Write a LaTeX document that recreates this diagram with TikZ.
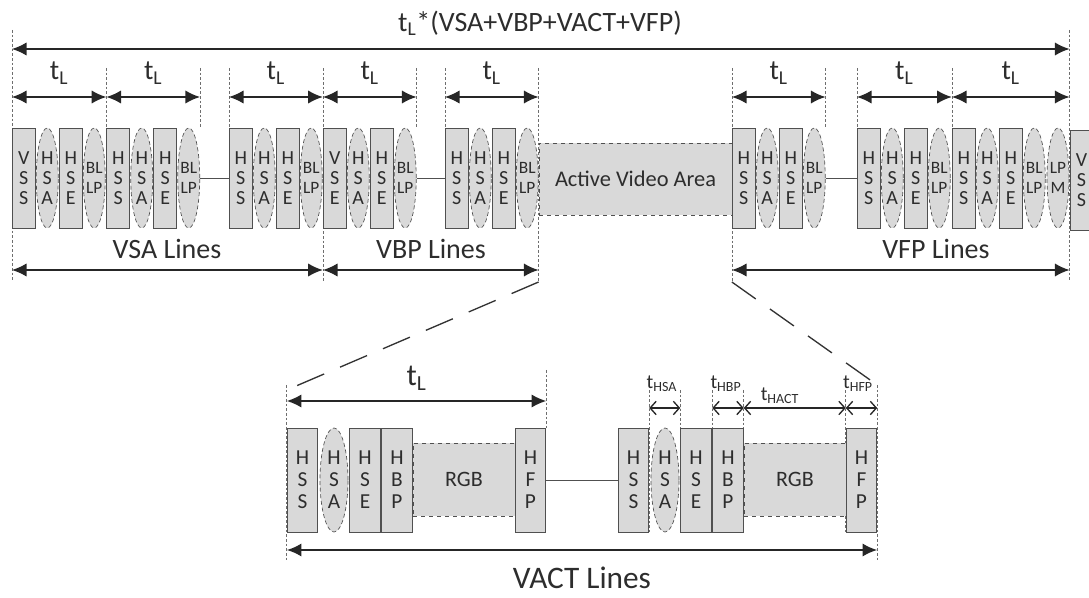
\documentclass[tikz,border=0pt]{standalone}
\usepackage{fontspec}
\setmainfont{Carlito}
\usetikzlibrary{arrows.meta, positioning, calc, shapes.geometric, backgrounds}
\definecolor{boxfill}{RGB}{217,217,217}
\definecolor{boxline}{RGB}{80,80,80}
\definecolor{txtgray}{RGB}{45,45,45}
\definecolor{guide}{RGB}{110,110,110}

\begin{document}
\begin{tikzpicture}[x=0.75pt, y=-0.75pt,
  every node/.style={text=txtgray, inner sep=0pt},
  lbox/.style={draw=boxline, fill=boxfill, line width=0.6pt, minimum width=17.25pt, minimum height=75pt, align=center, font=\fontsize{15}{15}\selectfont},
  lell/.style={ellipse, draw=boxline, fill=boxfill, densely dashed, line width=0.5pt, minimum width=16.5pt, minimum height=75pt, inner xsep=-1.5pt, align=center, font=\fontsize{15}{15}\selectfont},
  lellsm/.style={lell, inner xsep=-2.5pt, font=\fontsize{13}{15}\selectfont},
  hbox/.style={lbox, minimum width=23pt, minimum height=78pt, font=\fontsize{16}{16.5}\selectfont},
  hell/.style={lell, minimum width=21pt, minimum height=78pt, font=\fontsize{16}{16.5}\selectfont},
  dashfill/.style={draw=boxline, fill=boxfill, dashed, line width=0.6pt},
  guide/.style={draw=guide, line width=0.5pt, dash pattern=on 2pt off 1.5pt},
  link/.style={draw=boxline, line width=0.5pt},
  zoomline/.style={draw=black!80, line width=1pt, dash pattern=on 22pt off 13pt},
  dim/.style={{Latex[length=11pt,width=10pt]}-{Latex[length=11pt,width=10pt]}, line width=1.3pt, draw=black!85},
  sdim/.style={{Straight Barb[length=4.5pt,width=10pt]}-{Straight Barb[length=4.5pt,width=10pt]}, line width=1pt, draw=black!85},
  tlab/.style={font=\fontsize{21}{21}\selectfont},
  biglab/.style={font=\fontsize{21}{21}\selectfont},
  smlab/.style={font=\fontsize{15}{15}\selectfont}
]
  \useasboundingbox (0,0) rectangle (1089,598);

  % levels
  \coordinate (yHi) at (0,30);
  \coordinate (yAll) at (0,49);
  \coordinate (yMid) at (0,68);
  \coordinate (yTL) at (0,97);
  \coordinate (yBlk) at (0,128);
  \coordinate (yLn) at (0,270);
  \coordinate (yLo) at (0,280);
  \coordinate (yZa) at (0,282);
  \coordinate (yZb) at (0,390);
  \coordinate (yZc) at (0,385);
  \coordinate (yB3) at (0,370);
  \coordinate (yB4) at (0,390);
  \coordinate (yBt) at (0,428);
  \coordinate (yBb) at (0,532);
  \coordinate (yB2) at (0,560);
  \coordinate (yTLb) at (0,401);
  \coordinate (ySm) at (0,408);
  \coordinate (yVa) at (0,550);

  % vertical timing, top
  \node[dashfill, minimum width=144.75pt, minimum height=54pt, font=\fontsize{16.8}{16.8}\selectfont] (act) at (635.5,179) {Active Video Area};
  \foreach \s/\f/\n in {12/{V\\S\\S}/1, 106.5/{H\\S\\S}/2, 229/{H\\S\\S}/3, 323/{V\\S\\E}/4,
                        445/{H\\S\\S}/5, 732/{H\\S\\S}/6, 857/{H\\S\\S}/7, 952/{H\\S\\S}/8}{
    \node[lbox] (g\n-1) at (\s+11.75,178) {\f};
    \node[lell] (g\n-2) at (\s+35.25,178) {H\\S\\A};
    \node[lbox] (g\n-3) at (\s+58.75,178) {H\\S\\E};
    \node[lellsm] (g\n-4) at (\s+82.25,178) {BL\\LP};
  }
  \node[lellsm] (lpm) at (1058,178) {LP\\M};
  \node[lbox] (vssR) at (1081.5,180) {V\\S\\S};

  \draw[link] (g2-4.east) -- (g3-1.west);
  \draw[link] (g4-4.east) -- (g5-1.west);
  \draw[link] (g6-4.east) -- (g7-1.west);

  % horizontal timing, bottom
  \foreach \s/\n in {287/1, 618/2}{
    \node[dashfill, minimum width=76.5pt, minimum height=54.75pt, font=\fontsize{16.5}{16.5}\selectfont] (rgb\n) at (\s+177,479.5) {RGB};
    \node[hbox] (h\n-1) at (\s+15.5,480) {H\\S\\S};
    \node[hell] (h\n-2) at (\s+47,480) {H\\S\\A};
    \node[hbox] (h\n-3) at (\s+78,480) {H\\S\\E};
    \node[hbox] (h\n-4) at (\s+110,480) {H\\B\\P};
    \node[hbox] (h\n-5) at (\s+243.5,480) {H\\F\\P};
  }
  \draw[link] (h1-5.east) -- (h2-1.west);

  % guides
  \begin{scope}[on background layer]
    \foreach \p in {g1-1.west, vssR.west}
      \draw[guide] (\p |- yHi) -- (\p |- yLo);
    \foreach \p in {g4-1.west, g5-4.east, g6-1.west}
      \draw[guide] (\p |- yMid) -- (\p |- yZa);
    \foreach \p in {g2-1.west, g2-4.east, g3-1.west, g4-4.east, g5-1.west, g6-4.east, g7-1.west, g8-1.west}
      \draw[guide] (\p |- yMid) -- (\p |- yBlk);
    \draw[guide] (h1-1.west |- yZc) -- (h1-1.west |- yB2);
    \draw[guide] (h2-5.east |- yZc) -- (h2-5.east |- yB2);
    \draw[guide] (h1-5.east |- yB3) -- (h1-5.east |- yBt);
    \foreach \p in {h2-1.east, h2-3.west, h2-4.west, h2-4.east, h2-5.west}
      \draw[guide] (\p |- yB4) -- (\p |- yBb);
  \end{scope}

  % dimensions
  \draw[dim] (g1-1.west |- yAll) -- (vssR.west |- yAll);
  \node[tlab] (ttl) at (540,23) {t\textsubscript{L}*(VSA+VBP+VACT+VFP)};
  \foreach \a/\b [count=\i] in {g1-1.west/g2-1.west, g2-1.west/g2-4.east, g3-1.west/g4-1.west, g4-1.west/g4-4.east,
                               g5-1.west/g5-4.east, g6-1.west/g6-4.east, g7-1.west/g8-1.west, g8-1.west/vssR.west}
    \draw[dim] (\a |- yTL) -- node[tlab, above=9pt] (tl\i) {t\textsubscript{L}} (\b |- yTL);

  \draw[dim] (g1-1.west |- yLn) -- (g4-1.west |- yLn);
  \draw[dim] (g4-1.west |- yLn) -- (g5-4.east |- yLn);
  \draw[dim] (g6-1.west |- yLn) -- (vssR.west |- yLn);
  \node[biglab] (vsal) at (167,249) {VSA Lines};
  \node[biglab] (vbpl) at (431,249) {VBP Lines};
  \node[biglab] (vfpl) at (936,249) {VFP Lines};

  \draw[zoomline] (g5-4.east |- yZa) -- (h1-1.west |- yZb);
  \draw[zoomline] (g6-1.west |- yZa) -- (h2-5.east |- yZc);

  \node[font=\fontsize{23}{23}\selectfont] (tlb) at (416.5,378) {t\textsubscript{L}};
  \draw[dim] (h1-1.west |- yTLb) -- (h1-5.east |- yTLb);

  \draw[sdim] (h2-1.east |- ySm) -- (h2-3.west |- ySm);
  \draw[sdim] (h2-4.west |- ySm) -- (h2-4.east |- ySm);
  \draw[sdim] (h2-4.east |- ySm) -- (h2-5.west |- ySm);
  \draw[sdim] (h2-5.west |- ySm) -- (h2-5.east |- ySm);
  \node[smlab] (thsa) at (662,384) {t\textsubscript{HSA}};
  \node[smlab] (thbp) at (726,384) {t\textsubscript{HBP}};
  \node[smlab] (thact) at (780,396) {t\textsubscript{HACT}};
  \node[smlab] (thfp) at (858,384) {t\textsubscript{HFP}};

  \draw[dim, line width=1.6pt] (h1-1.west |- yVa) -- (h2-5.east |- yVa);
  \node[font=\fontsize{23.5}{23.5}\selectfont] (vactl) at (582,578) {VACT Lines};
\end{tikzpicture}
\end{document}
